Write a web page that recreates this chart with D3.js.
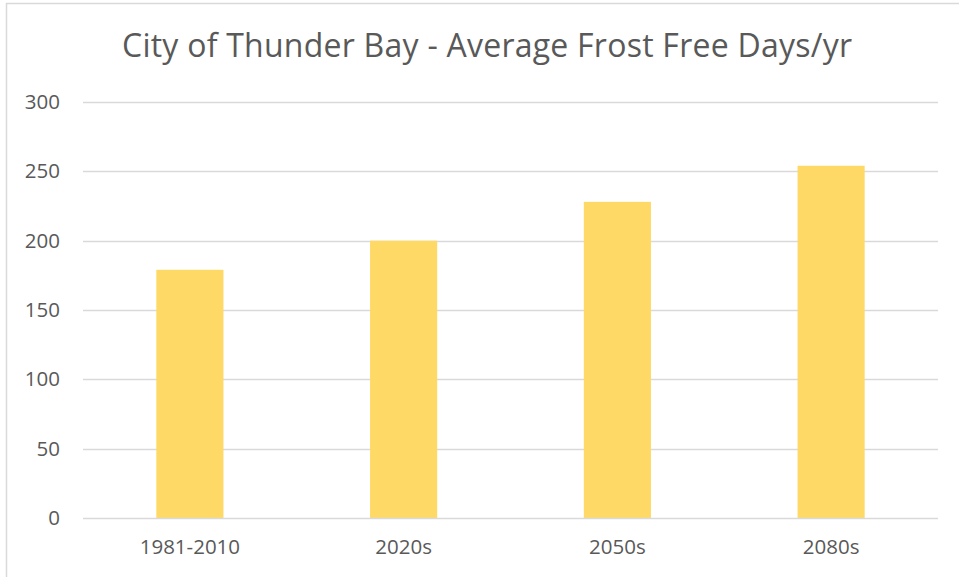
<!DOCTYPE html>
<html>
<head>
<meta charset="utf-8">
<script src="https://cdn.jsdelivr.net/npm/d3@7"></script>
<style>
  html, body { margin: 0; padding: 0; background: #ffffff; }
  svg { display: block; }
  text { font-family: "Open Sans", Lato, sans-serif; fill: #595959; }
</style>
</head>
<body>
<svg id="chart" width="959" height="577"></svg>
<script>
const title = "City of Thunder Bay - Average Frost Free Days/yr";
const categories = ["1981-2010", "2020s", "2050s", "2080s"];
const values = [179, 200, 228, 254];
const yTicks = [0, 50, 100, 150, 200, 250, 300];

const W = 959, H = 577;
const margin = { left: 83, right: 21, top: 102, bottom: 59 };
const svg = d3.select("#chart");
const FONT = '"Open Sans", Lato, sans-serif';

// chart border
svg.append("rect")
  .attr("x", 6.5).attr("y", 3.5)
  .attr("width", W + 20).attr("height", H + 20)
  .attr("fill", "#ffffff")
  .attr("stroke", "#d9d9d9").attr("stroke-width", 1.5);

const x = d3.scaleBand()
  .domain(categories)
  .range([margin.left, W - margin.right])
  .paddingInner(0.686)
  .paddingOuter(0.343);

const y = d3.scaleLinear()
  .domain([0, 300])
  .range([H - margin.bottom, margin.top]);

// gridlines
svg.append("g")
  .selectAll("line")
  .data(yTicks.filter(d => d !== 0))
  .join("line")
  .attr("x1", margin.left).attr("x2", W - margin.right)
  .attr("y1", d => Math.round(y(d)) + 0.5).attr("y2", d => Math.round(y(d)) + 0.5)
  .attr("stroke", "#d9d9d9").attr("stroke-width", 1.3);

// y labels
const yAxis = svg.append("g")
  .attr("transform", `translate(${margin.left},0)`)
  .call(d3.axisLeft(y).tickValues(yTicks).tickSize(0).tickPadding(23));
yAxis.select(".domain").remove();
yAxis.selectAll("text")
  .attr("font-size", 20.5)
  .attr("fill", "#595959")
  .style("font-family", FONT);

// bars
svg.append("g")
  .selectAll("rect")
  .data(categories.map((c, i) => ({ c, v: values[i] })))
  .join("rect")
  .attr("x", d => x(d.c))
  .attr("width", x.bandwidth())
  .attr("y", d => y(d.v))
  .attr("height", d => y(0) - y(d.v))
  .attr("fill", "#ffd966");

// x axis line
svg.append("line")
  .attr("x1", margin.left).attr("x2", W - margin.right)
  .attr("y1", Math.round(y(0)) + 0.5).attr("y2", Math.round(y(0)) + 0.5)
  .attr("stroke", "#d9d9d9").attr("stroke-width", 1.5);

// x labels
const xAxis = svg.append("g")
  .attr("transform", `translate(0,${y(0)})`)
  .call(d3.axisBottom(x).tickSize(0).tickPadding(21));
xAxis.select(".domain").remove();
xAxis.selectAll("text")
  .attr("font-size", 20.5)
  .attr("fill", "#595959")
  .style("font-family", FONT);

// title
svg.append("text")
  .attr("x", 487).attr("y", 57)
  .attr("text-anchor", "middle")
  .attr("font-size", 32)
  .attr("textLength", 730)
  .attr("lengthAdjust", "spacing")
  .attr("fill", "#595959")
  .style("font-family", FONT)
  .text(title);
</script>
</body>
</html>
